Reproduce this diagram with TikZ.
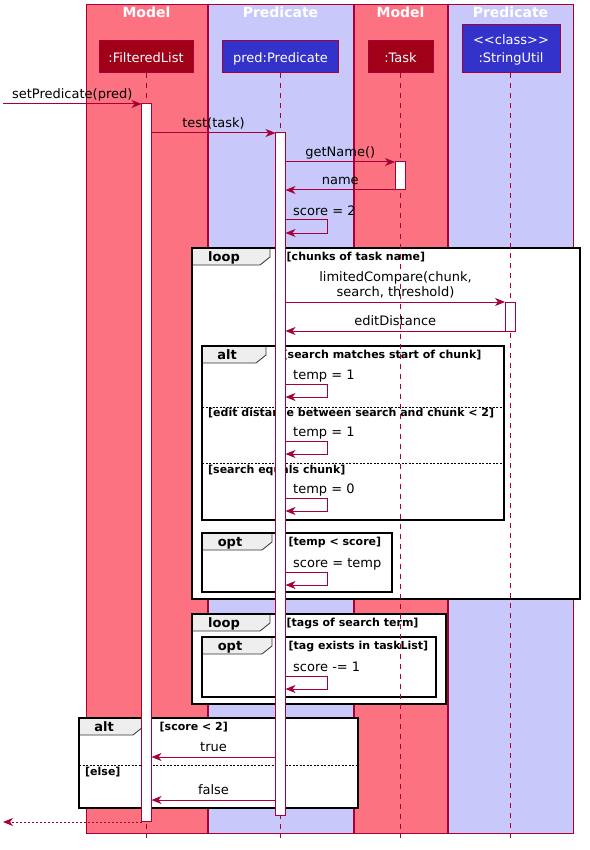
\documentclass[tikz,border=0pt]{standalone}
\usepackage{fontspec}
\setmainfont{DejaVu Sans}
\usetikzlibrary{arrows.meta}
\definecolor{modelc}{RGB}{252,114,129}
\definecolor{predc}{RGB}{200,200,250}
\definecolor{partr}{RGB}{160,0,24}
\definecolor{partb}{RGB}{51,51,204}
\definecolor{crim}{RGB}{168,0,54}
\definecolor{tabg}{RGB}{238,238,238}

\newcommand\sqmsg[6][msgarrow]{%
  \coordinate (#2a) at (#4,#3); \coordinate (#2b) at (#5,#3);
  \draw[#1] (#2a) -- (#2b);
  \node[lbl] (#2l) at ({(#4+#5)/2},{#3-5.5}) {#6};}
\newcommand\sqself[3]{%
  \coordinate (#1a) at (285.5,#2); \coordinate (#1b) at (327,#2);
  \coordinate (#1c) at (327,#2+13); \coordinate (#1d) at (285.5,#2+13);
  \draw[msgarrow] (#1a) -- (#1b) -- (#1c) -- (#1d);
  \node[slbl] (#1l) at (293,#2-5) {#3};}
\newcommand\sqfrag[8]{%
  \fill[white] (#2,#3) rectangle (#4,#5);
  \draw[tabline] (#2,#3) -- (#6,#3) -- (#6,#3+9) -- (#6-10,#3+17) -- (#2,#3+17) -- cycle;
  \draw[fragline] (#2,#3) rectangle (#4,#5);
  \node[tablbl] (#1l) at ({(#2+#6)/2-7},#3+13) {#7};
  \node[guard] (#1g) at (#6+16.5,#3+12) {#8};}

\begin{document}
\begin{tikzpicture}[x=1pt,y=-1pt,
 lane/.style={draw=crim, line width=1pt},
 lanetitle/.style={font=\bfseries\fontsize{14}{16}\selectfont, text=white, inner sep=0, anchor=base},
 partbox/.style={draw=crim, line width=1pt, inner sep=0},
 ptext/.style={text=white, font=\fontsize{13}{15}\selectfont, inner sep=0, anchor=base},
 life/.style={draw=crim, line width=1pt, dash pattern=on 5pt off 5pt},
 actbar/.style={draw=crim, fill=white, line width=1pt},
 msgarrow/.style={draw=crim, line width=1pt, -{Stealth[length=10pt,width=8pt,inset=3pt]}},
 retarrow/.style={msgarrow, dash pattern=on 2pt off 2pt},
 lbl/.style={font=\fontsize{13}{15}\selectfont, inner sep=0, anchor=base},
 slbl/.style={lbl, anchor=base west},
 guard/.style={font=\bfseries\fontsize{11}{13}\selectfont, inner sep=0, anchor=base west},
 tablbl/.style={font=\bfseries\fontsize{13}{15}\selectfont, inner sep=0, anchor=base},
 fragline/.style={draw=black, line width=1.5pt},
 tabline/.style={draw=black!80, line width=0.8pt, fill=tabg},
 sepline/.style={draw=black, line width=0.7pt, dash pattern=on 2pt off 1.5pt},
]
\useasboundingbox (0,0) rectangle (589,850);

% lanes
\path[lane, fill=modelc] (86,4.5) rectangle (207,833);
\path[lane, fill=predc] (208,4.5) rectangle (353,833);
\path[lane, fill=modelc] (354,4.5) rectangle (447,833);
\path[lane, fill=predc] (448,4.5) rectangle (573,833);
\node[lanetitle] (t1) at (146.5,18) {Model};
\node[lanetitle] (t2) at (280.5,18) {Predicate};
\node[lanetitle] (t3) at (400.5,18) {Model};
\node[lanetitle] (t4) at (510.5,18) {Predicate};

% fragments
\sqfrag{fa}{192}{248}{580}{599}{270}{loop}{[chunks of task name]}
\sqfrag{fb}{202}{346}{504}{520}{266}{alt}{[search matches start of chunk]}
\sqfrag{fc}{202}{533}{392}{592}{272}{opt}{[temp < score]}
\sqfrag{fd}{192}{614}{446}{704}{270}{loop}{[tags of search term]}
\sqfrag{fe}{202}{637}{436}{697}{272}{opt}{[tag exists in taskList]}
\sqfrag{ff}{79}{718}{358}{808}{143}{alt}{[score < 2]}

% separators
\coordinate (s1a) at (202,407); \coordinate (s1b) at (504,407);
\draw[sepline] (s1a) -- (s1b);
\node[guard] (s1g) at (208,416) {[edit distance between search and chunk < 2]};
\coordinate (s2a) at (202,463); \coordinate (s2b) at (504,463);
\draw[sepline] (s2a) -- (s2b);
\node[guard] (s2g) at (208,473) {[search equals chunk]};
\coordinate (s3a) at (79,765); \coordinate (s3b) at (358,765);
\draw[sepline] (s3a) -- (s3b);
\node[guard] (s3g) at (85,775) {[else]};

% participants
\node[partbox, fill=partr, minimum width=94pt, minimum height=32pt] (fl) at (146,57) {};
\node[partbox, fill=partb, minimum width=116pt, minimum height=32pt] (pr) at (280.5,57) {};
\node[partbox, fill=partr, minimum width=65pt, minimum height=32pt] (tk) at (400.5,57) {};
\node[partbox, fill=partb, minimum width=98pt, minimum height=48pt] (su) at (511,49) {};
\node[ptext] (flt) at (146,62.5) {:FilteredList};
\node[ptext] (prt) at (280.5,62.5) {pred:Predicate};
\node[ptext] (tkt) at (400.5,62.5) {:Task};
\node[ptext] (sut1) at (511,45) {<\kern0pt<\kern0pt class>\kern0pt>};
\node[ptext] (sut2) at (511,62.5) {:StringUtil};

% lifelines
\coordinate (flend) at (146,838);
\coordinate (prend) at (280.5,838);
\coordinate (tkend) at (400.5,838);
\coordinate (sutop) at (510,73);
\coordinate (suend) at (510,838);
\draw[life] (fl.south) -- (flend);
\draw[life] (pr.south) -- (prend);
\draw[life] (tk.south) -- (tkend);
\draw[life] (sutop) -- (suend);

% activation bars
\draw[actbar] (141.5,104) rectangle (151.5,821);
\draw[actbar] (275.5,133) rectangle (285.5,815);
\draw[actbar] (395,162) rectangle (405,190);
\draw[actbar] (505,302) rectangle (515,331);

% messages
\sqmsg{m1}{104}{3}{141.5}{setPredicate(pred)}
\sqmsg{m2}{133}{151.5}{275.5}{test(task)}
\sqmsg{m3}{162}{285.5}{395}{getName()}
\sqmsg{m4}{190}{395}{285.5}{name}
\sqself{m5}{220}{score = 2}
\coordinate (m6a) at (285.5,302); \coordinate (m6b) at (505,302);
\draw[msgarrow] (m6a) -- (m6b);
\node[lbl] (m6l1) at (395.5,281.5) {limitedCompare(chunk,};
\node[lbl] (m6l2) at (395.5,296) {search, threshold)};
\sqmsg{m7}{331}{505}{285.5}{editDistance}
\sqself{m8}{384}{temp = 1}
\sqself{m9}{441}{temp = 1}
\sqself{m10}{498}{temp = 0}
\sqself{m11}{572}{score = temp}
\sqself{m12}{676}{score -= 1}
\sqmsg{m13}{757}{275.5}{151.5}{true}
\sqmsg{m14}{800}{275.5}{151.5}{false}
\coordinate (m15a) at (141.5,822); \coordinate (m15b) at (3,822);
\draw[retarrow] (m15a) -- (m15b);
\end{tikzpicture}
\end{document}
